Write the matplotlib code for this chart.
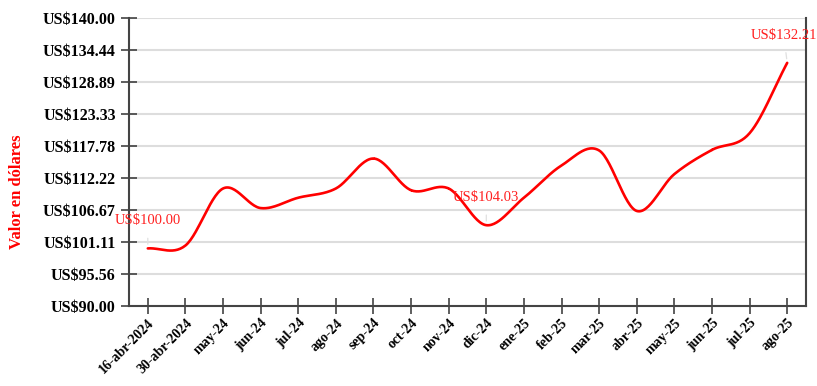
import numpy as np
import matplotlib
matplotlib.use("Agg")
import matplotlib.pyplot as plt

fechas = ["16-abr-2024", "30-abr-2024", "may-24", "jun-24", "jul-24", "ago-24",
          "sep-24", "oct-24", "nov-24", "dic-24", "ene-25", "feb-25", "mar-25",
          "abr-25", "may-25", "jun-25", "jul-25", "ago-25"]
valores = [100.00, 100.5, 110.4, 107.0, 108.8, 110.4, 115.6, 110.1, 110.4,
           104.03, 108.8, 114.4, 117.0, 106.5, 112.9, 117.1, 120.0, 132.21]
etiquetas = {0: "US$100.00", 9: "US$104.03", 17: "US$132.21"}
yticks = np.linspace(90, 140, 10)


def catmull_rom(x, y, n=30):
    # suavizado tipo catmull-rom entre puntos
    x = np.asarray(x, float)
    y = np.asarray(y, float)
    px = np.concatenate([[2 * x[0] - x[1]], x, [2 * x[-1] - x[-2]]])
    py = np.concatenate([[2 * y[0] - y[1]], y, [2 * y[-1] - y[-2]]])
    xs, ys = [], []
    t = np.linspace(0, 1, n)
    for i in range(1, len(px) - 2):
        for arr, out in ((px, xs), (py, ys)):
            p0, p1, p2, p3 = arr[i - 1], arr[i], arr[i + 1], arr[i + 2]
            out.append(0.5 * ((2 * p1) + (-p0 + p2) * t
                              + (2 * p0 - 5 * p1 + 4 * p2 - p3) * t ** 2
                              + (-p0 + 3 * p1 - 3 * p2 + p3) * t ** 3))
    return np.concatenate(xs), np.concatenate(ys)


plt.rcParams['font.family'] = ['Liberation Serif', 'DejaVu Serif']

fig = plt.figure(figsize=(8.17, 3.86), dpi=100)
ax = fig.add_axes([129 / 817, 1 - 306 / 386, 677 / 817, 288 / 386])

x = np.arange(len(fechas))
sx, sy = catmull_rom(x, valores)
ax.plot(sx, sy, color="#ff0000", lw=1.9, zorder=3, solid_capstyle="round")

for i, txt in etiquetas.items():
    dx = -2.5 if i == len(fechas) - 1 else 0
    ax.annotate(txt, xy=(i, valores[i]), xytext=(dx, 20), textcoords="offset points",
                ha="center", va="center", color="#ff2020", fontsize=10.5,
                arrowprops=dict(arrowstyle="-", color="#e0e0e0", lw=0.9,
                                shrinkA=6, shrinkB=3), zorder=4)

ax.set_xlim(-0.5, len(fechas) - 0.5)
ax.set_ylim(90, 140)
ax.set_yticks(yticks)
ax.set_yticklabels(["US$%.2f" % v for v in yticks], fontsize=11.5, fontweight="bold")
ax.set_xticks(x)
ax.set_xticklabels(fechas, rotation=45, ha="right", rotation_mode="anchor",
                   fontsize=10, fontweight="bold")

ax.grid(axis="y", color="#dddddd", lw=1.5)
ax.set_axisbelow(True)
for s in ["left", "bottom", "right"]:
    ax.spines[s].set_color("#444444")
    ax.spines[s].set_linewidth(1.5)
ax.spines["top"].set_visible(False)
ax.tick_params(axis="both", direction="inout", length=11, width=1.1, color="#333333")
ax.tick_params(axis="y", pad=4)
ax.tick_params(axis="x", pad=2)

fig.text(17 / 817, 1 - 192 / 386, "Valor en dólares", rotation=90, color="#ff0000",
         fontsize=12, fontweight="bold", ha="center", va="center")

fig.savefig("out.png", dpi=100)
